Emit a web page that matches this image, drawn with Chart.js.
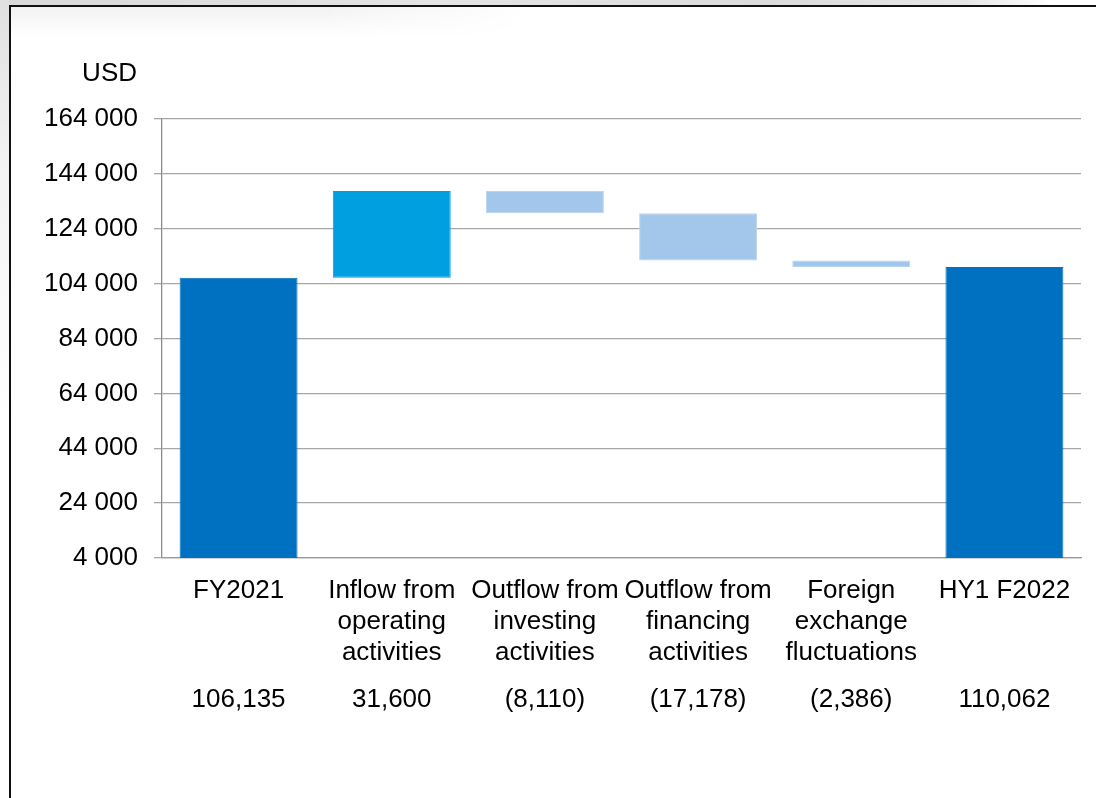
<!DOCTYPE html>
<html>
<head>
<meta charset="utf-8">
<script src="https://cdn.jsdelivr.net/npm/chart.js@4.4.1/dist/chart.umd.min.js"></script>
<style>
  html, body { margin: 0; padding: 0; background: #fff; }
  #page { position: relative; width: 1096px; height: 798px; overflow: hidden; background: #fff; }
  .deco { position: absolute; }
  #topShade { left: 0; top: 0; width: 1096px; height: 5px;
    background: linear-gradient(to right, #d9d9d9 0%, #e4e4e4 40%, #dcdcdc 70%, #e6e6e6 88%, #ffffff 96%); }
  #leftShade { left: 0; top: 0; width: 9px; height: 420px;
    background: linear-gradient(to bottom, #e0e0e0 0%, #f3f3f3 40%, #ffffff 100%); }
  #innerShade { left: 11px; top: 7px; width: 520px; height: 30px;
    background: linear-gradient(to bottom, rgba(0,0,0,0.05), rgba(0,0,0,0));
    -webkit-mask-image: linear-gradient(to right, #000 60%, transparent 100%);
            mask-image: linear-gradient(to right, #000 60%, transparent 100%); }
  #topRule { left: 9px; top: 5px; width: 1087px; height: 2px; background: #111; }
  #leftRule { left: 9px; top: 5px; width: 2px; height: 793px; background: #111; }
  canvas { position: absolute; left: 0; top: 0; }
</style>
</head>
<body>
<div id="page">
  <div class="deco" id="topShade"></div>
  <div class="deco" id="leftShade"></div>
  <div class="deco" id="innerShade"></div>
  <div class="deco" id="topRule"></div>
  <div class="deco" id="leftRule"></div>
  <canvas id="chart" width="1096" height="798"></canvas>
</div>
<script>
// Cash bridge, USD
const categories = [
  ['FY2021'],
  ['Inflow from', 'operating', 'activities'],
  ['Outflow from', 'investing', 'activities'],
  ['Outflow from', 'financing', 'activities'],
  ['Foreign', 'exchange', 'fluctuations'],
  ['HY1 F2022']
];
const amounts = [106135, 31600, -8110, -17178, -2386, 110062];
const amountLabels = ['106,135', '31,600', '(8,110)', '(17,178)', '(2,386)', '110,062'];
const barKinds = ['total', 'inflow', 'outflow', 'outflow', 'outflow', 'total'];
const axisMin = 4000;
const axisMax = 164000;
const axisStep = 20000;
const unitLabel = 'USD';

const kindColors = { total: '#0070C0', inflow: '#009FDF', outflow: '#A3C7EB' };
const kindBorders = { total: '#0070C0', inflow: '#009FDF', outflow: '#B9D5F1' };

// Floating [from, to] ranges: totals rise from the axis floor, movements chain on the running balance
const ranges = [];
let running = 0;
amounts.forEach((v, i) => {
  if (barKinds[i] === 'total') {
    ranges.push([axisMin, v]);
    running = v;
  } else {
    ranges.push([running, running + v]);
    running += v;
  }
});

const FONT = 'Liberation Sans, Arial, Helvetica, sans-serif';

const unitTitle = {
  id: 'unitTitle',
  afterDraw(chart) {
    const ctx = chart.ctx;
    ctx.save();
    ctx.font = '26px ' + FONT;
    ctx.fillStyle = '#000';
    ctx.textAlign = 'right';
    ctx.textBaseline = 'middle';
    ctx.fillText(unitLabel, 137, 74);
    ctx.restore();
  }
};

new Chart(document.getElementById('chart'), {
  type: 'bar',
  data: {
    labels: categories,
    datasets: [{
      label: 'Cash',
      data: ranges,
      backgroundColor: barKinds.map(k => kindColors[k]),
      borderColor: barKinds.map(k => kindBorders[k]),
      borderWidth: 1,
      borderSkipped: false,
      barPercentage: 0.77,
      categoryPercentage: 1.0,
      xAxisID: 'x',
      yAxisID: 'y'
    }]
  },
  options: {
    responsive: false,
    devicePixelRatio: 1,
    animation: false,
    layout: { padding: { top: 119, right: 15, bottom: 83, left: 0 } },
    plugins: { legend: { display: false }, tooltip: { enabled: false } },
    scales: {
      y: {
        min: axisMin,
        max: axisMax,
        afterFit: s => { s.width = 162; },
        ticks: {
          stepSize: axisStep,
          padding: 16,
          color: '#000',
          font: { family: FONT, size: 26 },
          callback: v => String(v).replace(/\B(?=(\d{3})+(?!\d))/g, ' ')
        },
        grid: { color: '#a6a6a6', lineWidth: 1.3, tickLength: 8, drawTicks: true },
        border: { color: '#8c8c8c', width: 1.3 }
      },
      x: {
        weight: 0,
        afterFit: s => { s.height = 111; },
        ticks: {
          autoSkip: false,
          maxRotation: 0,
          minRotation: 0,
          padding: 17,
          color: '#000',
          font: { family: FONT, size: 26, lineHeight: 1.2 }
        },
        grid: { display: false, drawTicks: false },
        border: { color: '#9a9a9a', width: 1.3 }
      },
      x2: {
        type: 'category',
        position: 'bottom',
        weight: 1,
        labels: amountLabels,
        offset: true,
        afterFit: s => { s.height = 46; },
        ticks: {
          autoSkip: false,
          maxRotation: 0,
          minRotation: 0,
          padding: 15,
          color: '#000',
          font: { family: FONT, size: 26, lineHeight: 1.2 }
        },
        grid: { display: false, drawTicks: false },
        border: { display: false }
      }
    }
  },
  plugins: [unitTitle]
});
</script>
</body>
</html>
